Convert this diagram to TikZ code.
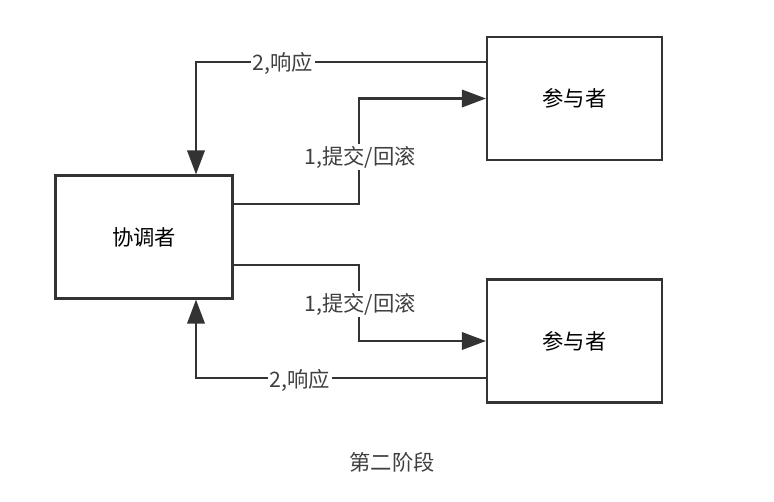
\documentclass[tikz,border=0pt]{standalone}
\usepackage{fontspec}
\newfontfamily\cjk{Noto Sans CJK SC}
\usetikzlibrary{arrows.meta}
\tikzset{
	box/.style={draw=black!80, line width=1.8pt, minimum width=131pt, minimum height=92pt, inner sep=0pt},
	flow/.style={draw=black!80, line width=1.8pt, -{Triangle[length=18pt, width=13pt]}},
	lbl/.style={fill=white, inner sep=1.5pt, text=black!75}
}
\begin{document}
\begin{tikzpicture}[x=0.75pt, y=-0.75pt, font=\cjk\fontsize{16}{19}\selectfont]
	\useasboundingbox (0,0) rectangle (774,501);
	\node[box, minimum width=133pt] (coord) at (144,237) {协调者};
	\node[box] (parA) at (574.5,98.5) {参与者};
	\node[box] (parB) at (574.5,341) {参与者};
	\coordinate (ra) at (196,62);
	\coordinate (rb) at (196,378);
	\coordinate (ca) at (359,204);
	\coordinate (cb) at (359,265);
	% phase two: commit / rollback
	\draw[flow] (coord.east |- ca) -- (ca) -- (ca |- parA.west) -- (parA.west);
	\draw[flow] (coord.east |- cb) -- (cb) -- (cb |- parB.west) -- (parB.west);
	% responses
	\draw[flow] (parA.west |- ra) -- (ra) -- (coord.north -| ra);
	\draw[flow] (parB.west |- rb) -- (rb) -- (coord.south -| rb);
	\node[lbl] (ta) at (283,63) {2,响应};
	\node[lbl] (tb) at (300,380) {2,响应};
	\node[lbl] (sa) at (360,157) {1,提交/回滚};
	\node[lbl] (sb) at (360,304) {1,提交/回滚};
	\node[text=black!75] (title) at (392,462) {第二阶段};
\end{tikzpicture}
\end{document}
